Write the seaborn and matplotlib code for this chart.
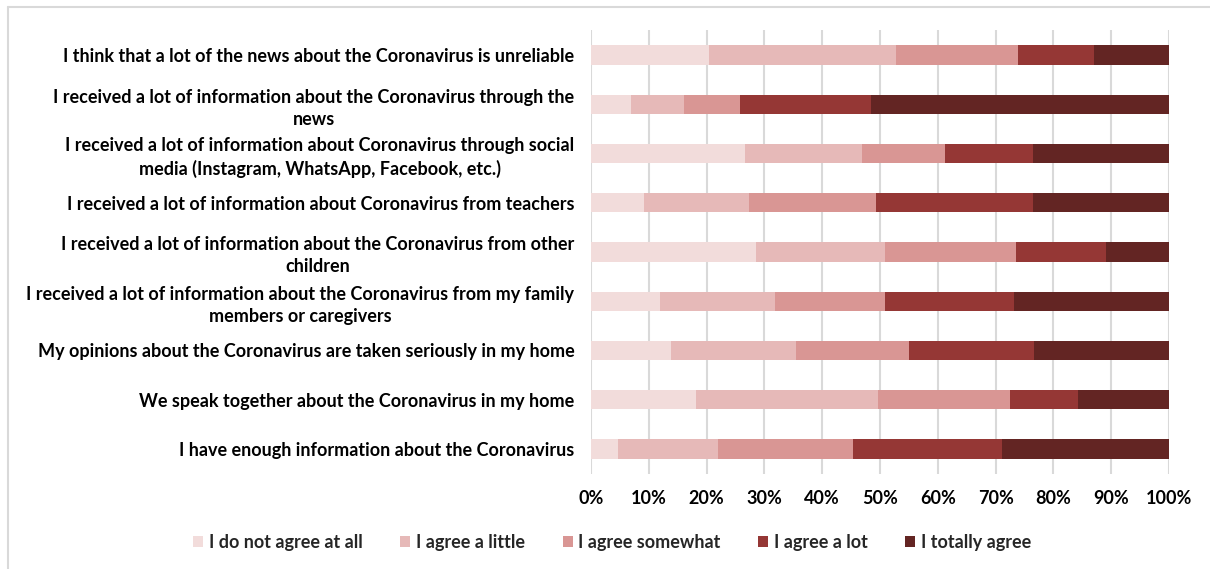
import numpy as np
import pandas as pd
import matplotlib
matplotlib.use("Agg")
import matplotlib.pyplot as plt
from matplotlib.lines import Line2D
from matplotlib.patches import Patch
from matplotlib.ticker import PercentFormatter
import seaborn as sns

# Survey statements (top to bottom)
statements = [
    "I think that a lot of the news about the Coronavirus is unreliable",
    "I received a lot of information about the Coronavirus through the\nnews",
    "I received a lot of information about Coronavirus through social\nmedia (Instagram, WhatsApp, Facebook, etc.)",
    "I received a lot of information about Coronavirus from teachers",
    "I received a lot of information about the Coronavirus from other\nchildren",
    "I received a lot of information about the Coronavirus from my family\nmembers or caregivers",
    "My opinions about the Coronavirus are taken seriously in my home",
    "We speak together about the Coronavirus in my home",
    "I have enough information about the Coronavirus",
]

responses = [
    "I do not agree at all",
    "I agree a little",
    "I agree somewhat",
    "I agree a lot",
    "I totally agree",
]

# Share of answers (%) per statement, one list per response level
not_at_all = [20.5, 6.9, 26.6, 9.1, 28.6, 11.9, 13.8, 18.1, 4.7]
a_little   = [32.3, 9.2, 20.3, 18.3, 22.2, 19.9, 21.6, 31.5, 17.3]
somewhat   = [21.1, 9.6, 14.4, 21.9, 22.8, 19.1, 19.7, 22.9, 23.4]
a_lot      = [13.1, 22.8, 15.1, 27.2, 15.5, 22.3, 21.6, 11.7, 25.7]
totally    = [13.0, 51.5, 23.6, 23.5, 10.9, 26.8, 23.3, 15.8, 28.9]

palette = ["#F2DCDB", "#E6B9B8", "#D99694", "#953735", "#632523"]

sns.set_theme(style="white")
plt.rcParams["font.family"] = ["Lato", "DejaVu Sans"]
plt.rcParams["font.weight"] = "bold"

df = pd.DataFrame(
    {"statement": statements, **dict(zip(responses, [not_at_all, a_little, somewhat, a_lot, totally]))}
)
vals = df[responses].to_numpy()
cum = np.cumsum(vals, axis=1)

fig = plt.figure(figsize=(12.1, 5.69), dpi=100)
ax = fig.add_axes([591 / 1210, 1 - 473.6 / 569, (1169 - 591) / 1210, (473.6 - 30.4) / 569])

# Stacked bars: draw cumulative totals from the outermost segment inwards
for i in range(len(responses) - 1, -1, -1):
    sns.barplot(
        x=cum[:, i], y=df["statement"], color=palette[i], orient="h",
        width=0.39, saturation=1, linewidth=0, ax=ax,
    )

ax.set_xlim(0, 100)
ax.set_ylim(len(statements) - 0.5, -0.5)
ax.set_xticks(np.arange(0, 101, 10))
ax.xaxis.set_major_formatter(PercentFormatter(decimals=0))
ax.grid(axis="x", color="#D9D9D9", linewidth=1.5)
ax.set_axisbelow(True)
for s in ax.spines.values():
    s.set_visible(False)
ax.set_xlabel("")
ax.set_ylabel("")
ax.tick_params(axis="x", labelsize=13, colors="#000000", pad=12, length=0)
ax.tick_params(axis="y", labelsize=13, colors="#000000", pad=12, length=0)
for lab in ax.get_yticklabels():
    lab.set_multialignment("center")
    lab.set_linespacing(1.35)
    lab.set_fontweight("bold")
for lab in ax.get_xticklabels():
    lab.set_fontweight("bold")

handles = [Patch(facecolor=c, edgecolor="none") for c in palette]
fig.legend(
    handles, responses, loc="center", bbox_to_anchor=(0.506, 0.047), ncol=5,
    frameon=False, handlelength=0.55, handleheight=0.55,
    handletextpad=0.3, columnspacing=2.1, prop={"weight": "bold", "size": 13},
)

# Chart area border
border = "#D9D9D9"
fig.add_artist(Line2D([8 / 1210, 1], [1 - 7 / 569, 1 - 7 / 569], color=border, lw=1.5, transform=fig.transFigure))
fig.add_artist(Line2D([8 / 1210, 8 / 1210], [0, 1 - 7 / 569], color=border, lw=1.5, transform=fig.transFigure))

fig.savefig("out.png", dpi=100, facecolor="white")
